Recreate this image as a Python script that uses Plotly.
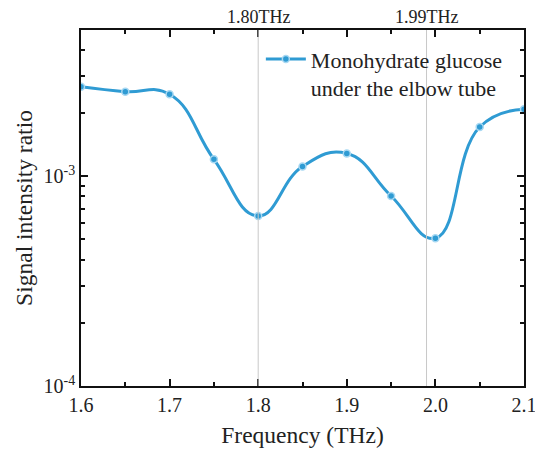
import plotly.graph_objects as go

freq = [1.60, 1.65, 1.70, 1.75, 1.80, 1.85, 1.90, 1.95, 2.00, 2.05, 2.10]
ratio = [2.66e-3, 2.52e-3, 2.45e-3, 1.20e-3, 6.45e-4, 1.11e-3, 1.28e-3, 8.03e-4, 5.05e-4, 1.71e-3, 2.08e-3]
peak_freqs = [1.80, 1.99]
peak_labels = ["1.80THz", "1.99THz"]
series_name = "Monohydrate glucose<br>under the elbow tube"

blue = "#2f9bd3"
font = "Liberation Serif, Times New Roman, serif"

fig = go.Figure()
fig.add_trace(go.Scatter(
    x=freq, y=ratio, mode="lines+markers", name=series_name,
    line=dict(color=blue, width=3, shape="spline", smoothing=1.3),
    marker=dict(size=7, color=blue, line=dict(color="#a8d8f2", width=1.5)),
))

for f, lab in zip(peak_freqs, peak_labels):
    fig.add_vline(x=f, line=dict(color="#c8c8c8", width=1))
    fig.add_annotation(x=f, xref="x", y=1.0, yref="paper", yanchor="bottom", yshift=1,
                       text=lab, showarrow=False, font=dict(family=font, size=18, color="#222"))

fig.update_layout(
    width=535, height=452,
    margin=dict(l=81, r=11, t=30, b=66),
    paper_bgcolor="white", plot_bgcolor="white",
    font=dict(family=font, size=20, color="#222"),
    showlegend=True,
    legend=dict(x=0.406, y=0.977, xanchor="left", yanchor="top", bgcolor="rgba(0,0,0,0)",
                font=dict(family=font, size=22, color="#222"), itemwidth=40, valign="top"),
)
fig.update_xaxes(
    range=[1.6, 2.1], dtick=0.1, tickformat=".1f", automargin=False,
    ticklabeloverflow="allow",
    ticks="inside", ticklen=7, tickwidth=1.5, tickcolor="#111",
    showline=True, linecolor="#111", linewidth=1.5, mirror="allticks",
    showgrid=False, zeroline=False,
    minor=dict(ticks="inside", dtick=0.05, ticklen=4, tickcolor="#111", showgrid=False),
    title=dict(text="Frequency (THz)", font=dict(family=font, size=23.5), standoff=12),
    tickfont=dict(family=font, size=20),
)
fig.update_yaxes(
    type="log", range=[-4, -2.305], automargin=False,
    ticklabeloverflow="allow",
    tickvals=[1e-4, 1e-3], ticktext=["10<sup>-4</sup>", "10<sup>-3</sup>"],
    ticks="inside", ticklen=7, tickwidth=1.5, tickcolor="#111",
    showline=True, linecolor="#111", linewidth=1.5, mirror="allticks",
    showgrid=False, zeroline=False,
    minor=dict(ticks="inside", ticklen=4, tickcolor="#111", showgrid=False,
               tickvals=[k * 1e-4 for k in range(2, 10)] + [k * 1e-3 for k in range(2, 5)]),
    title=dict(text="Signal intensity ratio", font=dict(family=font, size=23.5), standoff=4),
    tickfont=dict(family=font, size=20),
)

fig.write_html("out.html")
